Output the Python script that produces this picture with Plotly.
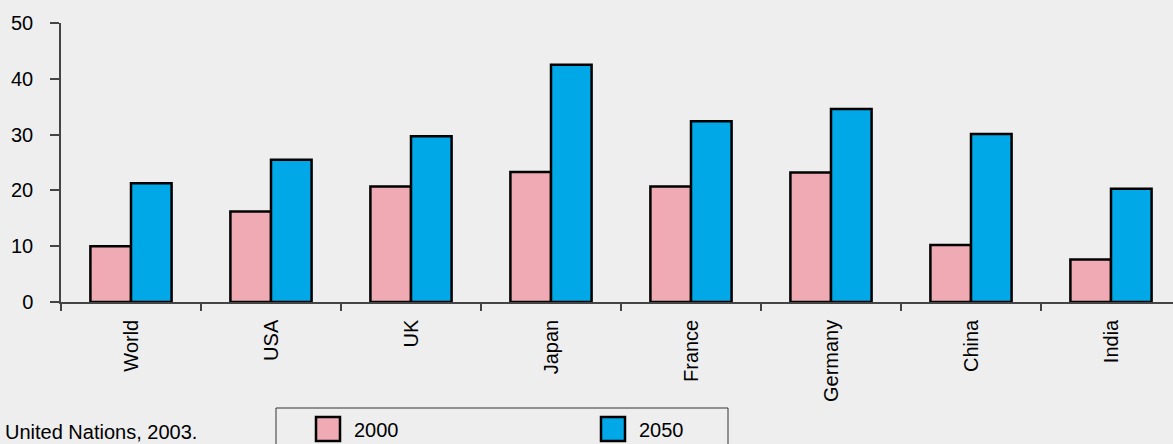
import plotly.graph_objects as go

countries = ["World", "USA", "UK", "Japan", "France", "Germany", "China", "India"]
series_names = ["2000", "2050"]
values_2000 = [10.0, 16.2, 20.7, 23.3, 20.7, 23.2, 10.2, 7.6]
values_2050 = [21.3, 25.5, 29.7, 42.5, 32.4, 34.6, 30.1, 20.3]
y_ticks = [0, 10, 20, 30, 40, 50]
source_text = "United Nations, 2003."

PINK = "#F0AAB4"
BLUE = "#00A8E8"
BG = "#EEEEEE"
AXIS = "#444444"
FONT = "Arial, Liberation Sans, sans-serif"

W, H = 1173, 444
ML, MR, MT, MB = 61, 0, 23, 142
PW = W - ML - MR
PH = H - MT - MB

def px_x(p):
    return (p - ML) / PW

def px_y(p):
    return (H - MB - p) / PH

fig = go.Figure()
for name, vals, col in [(series_names[0], values_2000, PINK), (series_names[1], values_2050, BLUE)]:
    fig.add_trace(go.Bar(
        x=countries, y=vals, name=name,
        marker=dict(color=col, line=dict(color="black", width=2.5)),
        showlegend=False,
    ))

# manual legend box and keys
shapes = [dict(type="rect", xref="paper", yref="paper",
               x0=px_x(276), x1=px_x(728), y0=px_y(470), y1=px_y(408),
               line=dict(color="#333333", width=1), fillcolor="rgba(0,0,0,0)")]
annotations = []
for (name, col, kx) in [(series_names[0], PINK, 316), (series_names[1], BLUE, 601)]:
    shapes.append(dict(type="rect", xref="paper", yref="paper",
                       x0=px_x(kx), x1=px_x(kx + 24), y0=px_y(441), y1=px_y(417),
                       line=dict(color="black", width=2.5), fillcolor=col))
    annotations.append(dict(text=name, xref="paper", yref="paper",
                            x=px_x(kx + 36), y=px_y(430), xanchor="left", yanchor="middle",
                            showarrow=False, font=dict(size=20, color="black", family=FONT)))
annotations.append(dict(text=source_text, xref="paper", yref="paper",
                        x=px_x(3), y=px_y(432), xanchor="left", yanchor="middle",
                        showarrow=False, font=dict(size=20, color="black", family=FONT)))

fig.update_layout(
    width=W, height=H,
    margin=dict(l=ML, r=MR, t=MT, b=MB, pad=0),
    paper_bgcolor=BG, plot_bgcolor=BG,
    barmode="group", bargap=0.42, bargroupgap=0,
    font=dict(family=FONT, size=20, color="black"),
    shapes=shapes, annotations=annotations,
    showlegend=False,
)
fig.update_xaxes(
    type="category", range=[-0.5, -0.5 + PW / 140.0],
    showline=True, linecolor=AXIS, linewidth=1.5,
    ticks="outside", tickson="boundaries", ticklen=7, tickcolor=AXIS, tickwidth=1.5,
    tickangle=-90, ticklabelstandoff=8, showgrid=False, zeroline=False, automargin=False,
    tickfont=dict(size=20, color="black", family=FONT),
)
fig.update_yaxes(
    range=[0, 50], tickvals=y_ticks,
    showline=True, linecolor=AXIS, linewidth=1.5,
    ticks="outside", ticklen=9, tickcolor=AXIS, tickwidth=1.5,
    ticklabelstandoff=13,
    showgrid=False, zeroline=False, automargin=False,
    tickfont=dict(size=20, color="black", family=FONT),
)

fig.write_html("out.html", config={"displayModeBar": False},
               post_script="document.body.style.margin='0';document.body.style.overflow='hidden';")
